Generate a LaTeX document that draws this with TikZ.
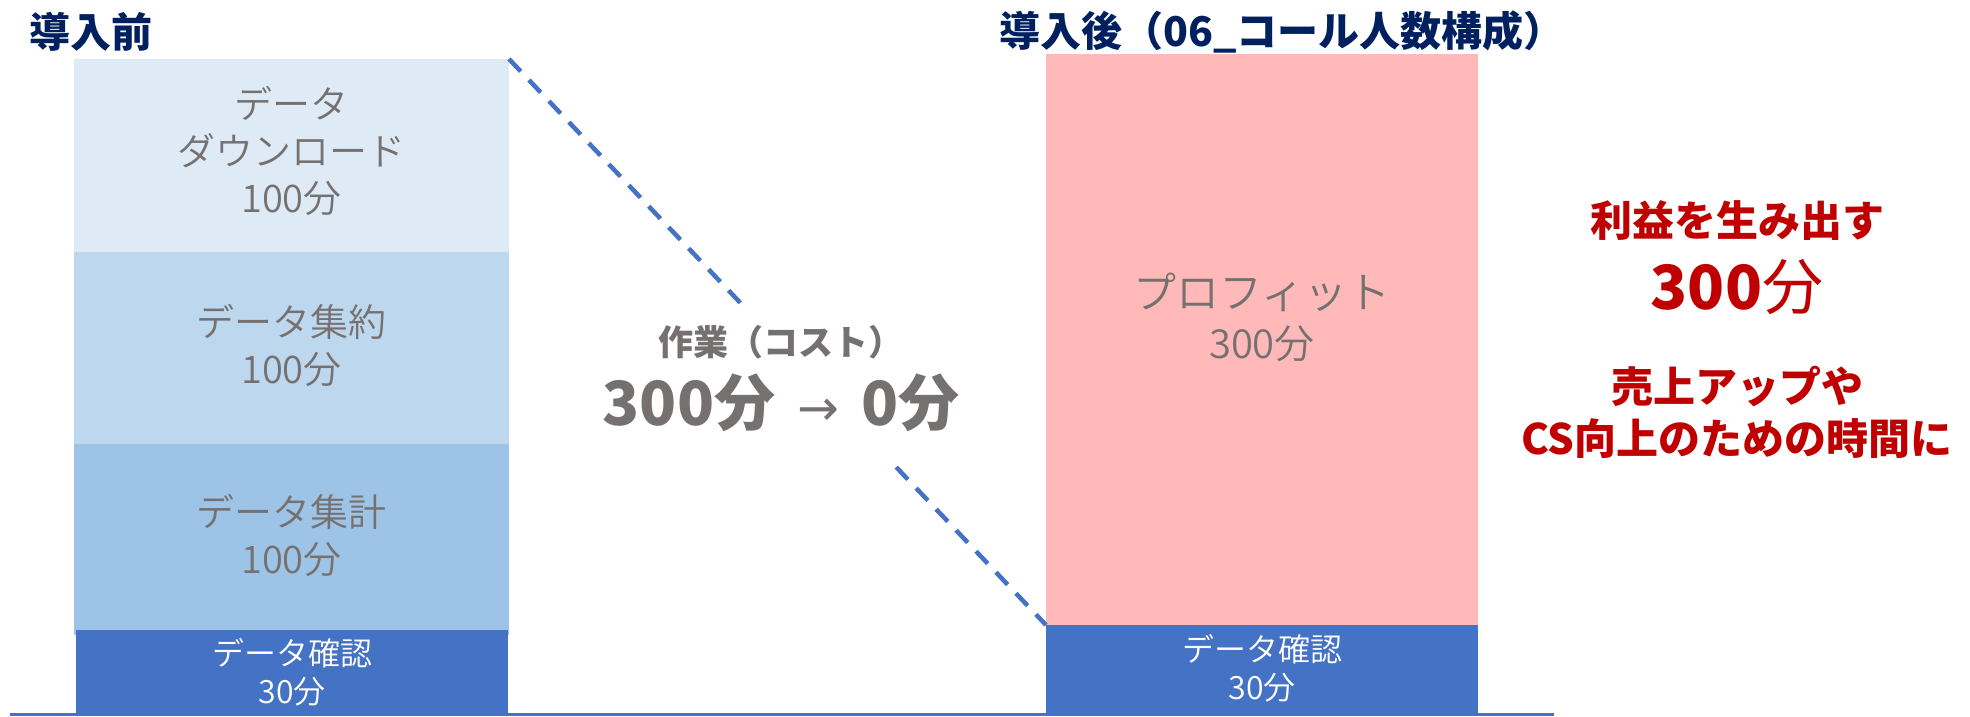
\documentclass[tikz,border=0pt]{standalone}
\usepackage{fontspec}
\setmainfont{Noto Sans CJK JP}
\newfontfamily\jplight{Noto Sans CJK JP DemiLight}
\newfontfamily\dejavu{DejaVu Sans}
\usetikzlibrary{calc}
\definecolor{navy}{HTML}{002060}
\definecolor{blk1}{HTML}{DEEBF7}
\definecolor{blk2}{HTML}{BDD7EE}
\definecolor{blk3}{HTML}{9DC3E6}
\definecolor{accblue}{HTML}{4472C4}
\definecolor{pinkbox}{HTML}{FFB9B9}
\definecolor{txtgray}{HTML}{767171}
\definecolor{darkred}{HTML}{C00000}
\begin{document}
\begin{tikzpicture}[x=1pt,y=-1pt,
  box/.style={anchor=north west, inner sep=0pt, outer sep=0pt, draw=none},
  ttl/.style={anchor=west, inner sep=0pt, text=navy, font=\bfseries\fontsize{41}{41}\selectfont},
  blocktxt/.style={inner sep=0pt, align=center, text=txtgray, font=\jplight\fontsize{38}{47}\selectfont},
  bluetxt/.style={inner sep=0pt, align=center, text=white, font=\jplight\fontsize{32}{38}\selectfont},
  redtxt/.style={inner sep=0pt, align=center, text=darkred},
  dashline/.style={draw=accblue, line width=4.5pt, dash pattern=on 17pt off 12pt},
  axisline/.style={draw=accblue, line width=3pt}]
\useasboundingbox (0,0) rectangle (1970,716);

% titles
\node[ttl] (t1) at (29,32) {導入前};
\node[ttl] (t2) at (999,32) {導入後（06\_コール人数構成）};

% left stack
\node[box, fill=blk1, minimum width=435pt, minimum height=193pt] (L1) at (74,59) {};
\node[box, fill=blk2, minimum width=435pt, minimum height=192pt] (L2) at (74,252) {};
\node[box, fill=blk3, minimum width=435pt, minimum height=191pt] (L3) at (74,444) {};
\node[box, fill=accblue, minimum width=432pt, minimum height=86pt] (L4) at (76,630) {};

% right stack
\node[box, fill=pinkbox, minimum width=432pt, minimum height=571pt] (R1) at (1046,54) {};
\node[box, fill=accblue, minimum width=432pt, minimum height=91pt] (R2) at (1046,625) {};

% block texts
\node[blocktxt] (L1t) at (291.5,151) {データ\\ダウンロード\\100分};
\node[blocktxt] (L2t) at (291.5,345) {データ集約\\100分};
\node[blocktxt] (L3t) at (291.5,535) {データ集計\\100分};
\node[bluetxt] (L4t) at (292,672) {データ確認\\30分};
\node[blocktxt, font=\jplight\fontsize{40}{50}\selectfont] (R1t) at (1262,317)
  {{\fontsize{43}{50}\selectfont プロフィット}\\300分};
\node[bluetxt] (R2t) at (1262,668) {データ確認\\30分};

% dashed connector, interrupted around the cost label
\draw[dashline] (L1.north east) -- ($(L1.north east)!0.438!(R2.north west)$);
\draw[dashline] ($(L1.north east)!0.721!(R2.north west)$) -- (R2.north west);

% cost label
\node[inner sep=0pt, align=center, text=txtgray, font=\bfseries\fontsize{35}{70}\selectfont] (cost) at (781,379)
  {作業（コスト）\\
   \fontsize{61}{70}\selectfont 300分\hspace*{22pt}{\dejavu\mdseries\fontsize{50}{70}\selectfont →}\hspace*{22pt}0分};

% right message
\node[redtxt, font=\bfseries\fontsize{42}{73}\selectfont] (gain) at (1737,257.5)
  {利益を生み出す\\
   \fontsize{61}{73}\selectfont{\bfseries 300}{\mdseries 分}};
\node[redtxt, font=\bfseries\fontsize{42}{52}\selectfont] (use) at (1737,412)
  {売上アップや\\CS向上のための時間に};

% axis line
\coordinate (b0) at (10,714);
\coordinate (b1) at (1554,714);
\draw[axisline] (b0) -- (b1);
\end{tikzpicture}
\end{document}
